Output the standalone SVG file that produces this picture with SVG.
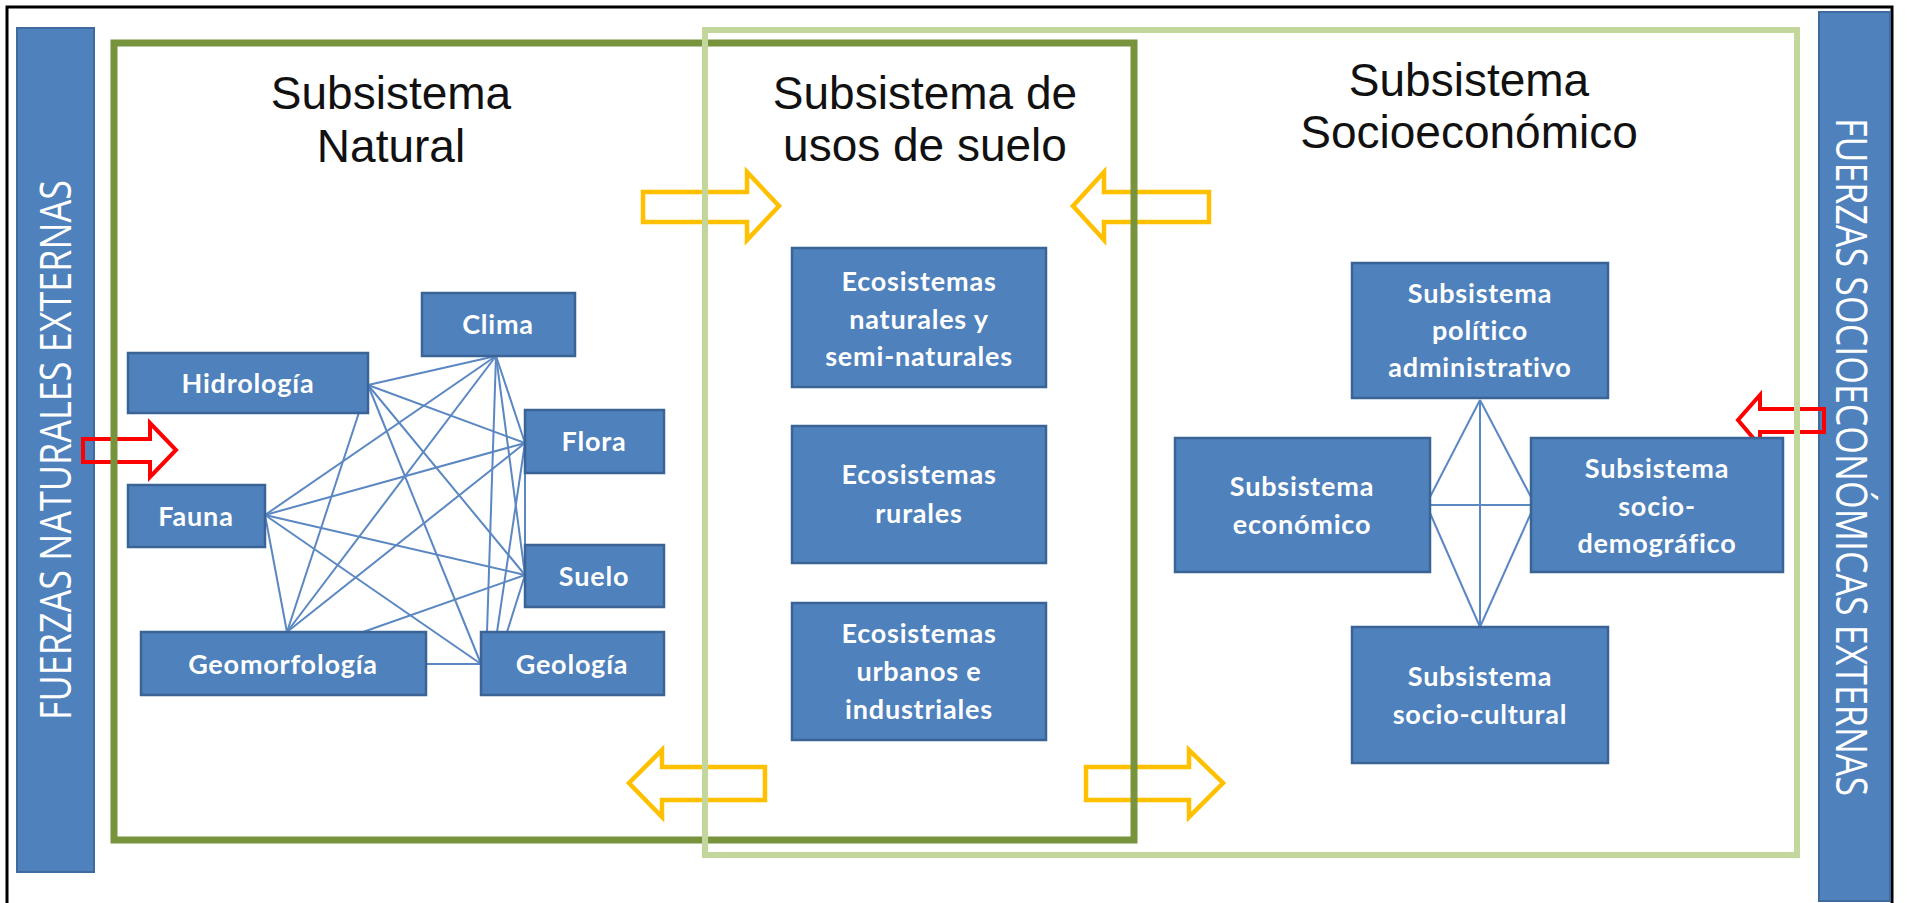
<svg xmlns="http://www.w3.org/2000/svg" width="1907" height="903" viewBox="0 0 1907 903">
<style>
.bar{fill:#4F81BD;stroke:#3F6A9E;stroke-width:2}
.bartxt{font-family:"Open Sans","Liberation Sans",sans-serif;font-size:43px;fill:#FFFFFF;text-anchor:middle}
.box{fill:#4F81BD;stroke:#3A6496;stroke-width:2.5}
.lbl{font-family:Lato,"Open Sans",sans-serif;font-weight:700;font-size:27px;letter-spacing:0.8px;fill:#FFFFFF;text-anchor:middle}
.title{font-family:"Liberation Sans",Arial,sans-serif;font-size:46px;fill:#111111;text-anchor:middle}
.conn line{stroke:#5B87C2;stroke-width:2}
.yarrow{fill:none;stroke:#FFC000;stroke-width:4.5;stroke-linejoin:miter}
.rarrow{fill:none;stroke:#FF0000;stroke-width:4;stroke-linejoin:miter}
</style>
<rect x="0" y="0" width="1907" height="903" fill="#FFFFFF"/>
<path d="M7 903 V7 H1892 V903" fill="none" stroke="#000000" stroke-width="3"/>

<g id="fuerzas-naturales">
<rect class="bar" x="17" y="28" width="77" height="844"/>
<text class="bartxt" transform="translate(71,450) rotate(-90)" textLength="540" lengthAdjust="spacingAndGlyphs">FUERZAS NATURALES EXTERNAS</text>
</g>
<g id="fuerzas-socioeconomicas">
<rect class="bar" x="1819" y="12" width="71" height="889"/>
<text class="bartxt" transform="translate(1836,457) rotate(90)" textLength="678" lengthAdjust="spacingAndGlyphs">FUERZAS SOCIOECONÓMICAS EXTERNAS</text>
</g>

<g id="flechas">
<polygon class="yarrow" points="643,192 747,192 747,172 779,206 747,240 747,222 643,222"/>
<polygon class="yarrow" points="1209,192 1104,192 1104,172 1073,206 1104,240 1104,222 1209,222"/>
<polygon class="yarrow" points="765,767 662,767 662,750 629,783 662,817 662,800 765,800"/>
<polygon class="yarrow" points="1086,767 1189,767 1189,750 1223,783 1189,817 1189,800 1086,800"/>
<polygon class="rarrow" points="83,439 150,439 150,423 176,450 150,477 150,462 83,462"/>
<polygon class="rarrow" points="1824,409 1760,409 1760,395 1738,420 1760,446 1760,432 1824,432"/>
</g>

<g id="subsistema-natural">
<rect x="114" y="43" width="1020" height="797" fill="none" stroke="#77933C" stroke-width="7"/>
<text class="title" x="391" y="109">Subsistema</text>
<text class="title" x="391" y="162">Natural</text>
</g>
<g id="subsistema-socioeconomico-marco">
<rect x="705" y="30" width="1092" height="825" fill="none" stroke="#C3D69B" stroke-width="6"/>
<text class="title" x="925" y="109">Subsistema de</text>
<text class="title" x="925" y="161">usos de suelo</text>
<text class="title" x="1469" y="96">Subsistema</text>
<text class="title" x="1469" y="148">Socioeconómico</text>
</g>

<g id="connectors" class="conn">
<line x1="496" y1="356" x2="368" y2="385"/>
<line x1="496" y1="356" x2="265" y2="515"/>
<line x1="496" y1="356" x2="287" y2="632"/>
<line x1="496" y1="356" x2="487" y2="632"/>
<line x1="496" y1="356" x2="525" y2="443"/>
<line x1="496" y1="356" x2="525" y2="575"/>
<line x1="368" y1="385" x2="525" y2="443"/>
<line x1="368" y1="385" x2="525" y2="575"/>
<line x1="368" y1="385" x2="481" y2="664"/>
<line x1="368" y1="385" x2="287" y2="632"/>
<line x1="265" y1="515" x2="525" y2="443"/>
<line x1="265" y1="515" x2="525" y2="575"/>
<line x1="265" y1="515" x2="481" y2="664"/>
<line x1="265" y1="515" x2="287" y2="632"/>
<line x1="525" y1="443" x2="287" y2="632"/>
<line x1="525" y1="443" x2="497" y2="632"/>
<line x1="525" y1="443" x2="525" y2="575"/>
<line x1="525" y1="575" x2="363" y2="632"/>
<line x1="525" y1="575" x2="507" y2="632"/>
<line x1="426" y1="664" x2="481" y2="664"/>
<line x1="1480" y1="400" x2="1430" y2="497"/>
<line x1="1480" y1="400" x2="1531" y2="497"/>
<line x1="1480" y1="400" x2="1480" y2="627"/>
<line x1="1430" y1="505" x2="1531" y2="505"/>
<line x1="1480" y1="627" x2="1430" y2="513"/>
<line x1="1480" y1="627" x2="1531" y2="513"/>
</g>

<g id="clima"><rect class="box" x="422" y="293" width="153" height="63"/><text class="lbl" x="498" y="334">Clima</text></g>
<g id="hidrologia"><rect class="box" x="128" y="353" width="240" height="60"/><text class="lbl" x="248" y="393">Hidrología</text></g>
<g id="flora"><rect class="box" x="525" y="410" width="139" height="63"/><text class="lbl" x="594" y="451">Flora</text></g>
<g id="fauna"><rect class="box" x="128" y="485" width="137" height="62"/><text class="lbl" x="196" y="526">Fauna</text></g>
<g id="suelo"><rect class="box" x="525" y="545" width="139" height="62"/><text class="lbl" x="594" y="586">Suelo</text></g>
<g id="geomorfologia"><rect class="box" x="141" y="632" width="285" height="63"/><text class="lbl" x="283" y="674">Geomorfología</text></g>
<g id="geologia"><rect class="box" x="481" y="632" width="183" height="63"/><text class="lbl" x="572" y="674">Geología</text></g>

<g id="eco-naturales"><rect class="box" x="792" y="248" width="254" height="139"/>
<text class="lbl" x="919" y="291">Ecosistemas</text><text class="lbl" x="919" y="329">naturales y</text><text class="lbl" x="919" y="366">semi-naturales</text></g>
<g id="eco-rurales"><rect class="box" x="792" y="426" width="254" height="137"/>
<text class="lbl" x="919" y="484">Ecosistemas</text><text class="lbl" x="919" y="523">rurales</text></g>
<g id="eco-urbanos"><rect class="box" x="792" y="603" width="254" height="137"/>
<text class="lbl" x="919" y="643">Ecosistemas</text><text class="lbl" x="919" y="681">urbanos e</text><text class="lbl" x="919" y="719">industriales</text></g>

<g id="sub-politico"><rect class="box" x="1352" y="263" width="256" height="135"/>
<text class="lbl" x="1480" y="303">Subsistema</text><text class="lbl" x="1480" y="340">político</text><text class="lbl" x="1480" y="377">administrativo</text></g>
<g id="sub-economico"><rect class="box" x="1175" y="438" width="255" height="134"/>
<text class="lbl" x="1302" y="496">Subsistema</text><text class="lbl" x="1302" y="534">económico</text></g>
<g id="sub-sociodemografico"><rect class="box" x="1531" y="438" width="252" height="134"/>
<text class="lbl" x="1657" y="478">Subsistema</text><text class="lbl" x="1657" y="516">socio-</text><text class="lbl" x="1657" y="553">demográfico</text></g>
<g id="sub-sociocultural"><rect class="box" x="1352" y="627" width="256" height="136"/>
<text class="lbl" x="1480" y="686">Subsistema</text><text class="lbl" x="1480" y="724">socio-cultural</text></g>
</svg>
